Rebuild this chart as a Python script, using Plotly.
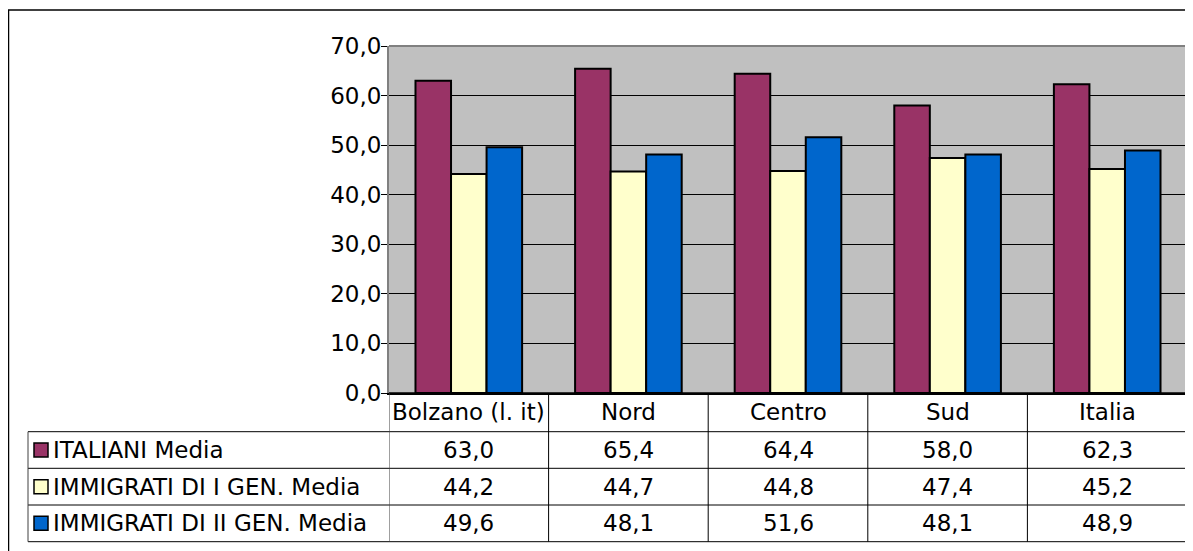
import plotly.graph_objects as go

categories = ["Bolzano (l. it)", "Nord", "Centro", "Sud", "Italia"]
series_names = ["ITALIANI Media", "IMMIGRATI DI I GEN. Media", "IMMIGRATI DI II GEN. Media"]
italiani = [63.0, 65.4, 64.4, 58.0, 62.3]
imm_1gen = [44.2, 44.7, 44.8, 47.4, 45.2]
imm_2gen = [49.6, 48.1, 51.6, 48.1, 48.9]
y_ticks = [0, 10, 20, 30, 40, 50, 60, 70]

series_values = [italiani, imm_1gen, imm_2gen]
colors = ["#993366", "#FFFFCC", "#0066CC"]

# page has an 8px body margin; work in screenshot pixels and shift
OFF = 8
W, H = 1193 - OFF, 551 - OFF
L, R, T, B = 389 - OFF, 1187 - OFF, 46 - OFF, 393 - OFF
FONT = "DejaVu Sans, Verdana, sans-serif"
FS = 23


def px(x):
    return (x - OFF - L) / (R - L)


def py(y):
    return (B - (y - OFF)) / (B - T)


fig = go.Figure()
for name, vals, col in zip(series_names, series_values, colors):
    fig.add_trace(go.Bar(
        x=list(range(len(categories))), y=vals, name=name,
        marker=dict(color=col, line=dict(color="black", width=2)),
        showlegend=False,
    ))

shapes = []
annotations = []

# outer chart border
shapes.append(dict(type="line", xref="paper", yref="paper", x0=px(8), x1=px(1210), y0=py(10), y1=py(10),
                   line=dict(color="black", width=1.5)))
shapes.append(dict(type="line", xref="paper", yref="paper", x0=px(8.5), x1=px(8.5), y0=py(10), y1=py(570),
                   line=dict(color="black", width=1.5)))

# plot area border (top/right gray)
shapes.append(dict(type="line", xref="paper", yref="paper", x0=0, x1=1, y0=1, y1=1,
                   line=dict(color="#808080", width=2)))
shapes.append(dict(type="line", xref="paper", yref="paper", x0=1, x1=1, y0=0, y1=1,
                   line=dict(color="#808080", width=2)))

# data table
row_edges = [393, 431.7, 468.3, 505, 541.7]
n = len(categories)
shapes.append(dict(type="line", xref="paper", yref="paper", x0=0, x1=1, y0=py(row_edges[0]), y1=py(row_edges[0]),
                   line=dict(color="black", width=1.5)))
for ry in row_edges[1:]:
    shapes.append(dict(type="line", xref="paper", yref="paper", x0=px(28), x1=1, y0=py(ry), y1=py(ry),
                       line=dict(color="black", width=1)))
for i in range(n + 1):
    shapes.append(dict(type="line", xref="x", yref="paper", x0=i - 0.5, x1=i - 0.5,
                       y0=py(row_edges[0]), y1=py(row_edges[-1]),
                       line=dict(color="black" if 0 < i < n else "#404040", width=1)))
shapes.append(dict(type="line", xref="paper", yref="paper", x0=px(28), x1=px(28),
                   y0=py(row_edges[1]), y1=py(row_edges[-1]), line=dict(color="#404040", width=1)))

for i, c in enumerate(categories):
    annotations.append(dict(x=i, y=py((row_edges[0] + row_edges[1]) / 2), xref="x", yref="paper",
                            text=c, showarrow=False, font=dict(family=FONT, size=FS, color="black"),
                            xanchor="center", yanchor="middle"))

for r, (name, vals, col) in enumerate(zip(series_names, series_values, colors)):
    cy = (row_edges[r + 1] + row_edges[r + 2]) / 2
    shapes.append(dict(type="rect", xref="paper", yref="paper", x0=px(34), x1=px(48),
                       y0=py(cy + 7), y1=py(cy - 7), fillcolor=col, line=dict(color="black", width=1.5)))
    annotations.append(dict(x=px(51), y=py(cy), xref="paper", yref="paper", text=name, showarrow=False,
                            font=dict(family=FONT, size=FS, color="black"), xanchor="left", yanchor="middle"))
    for i, v in enumerate(vals):
        annotations.append(dict(x=i, y=py(cy), xref="x", yref="paper", text=f"{v:.1f}".replace(".", ","),
                                showarrow=False, font=dict(family=FONT, size=FS, color="black"),
                                xanchor="center", yanchor="middle"))

fig.update_layout(
    width=W, height=H,
    margin=dict(l=L, r=W - R, t=T, b=H - B),
    paper_bgcolor="white", plot_bgcolor="#C0C0C0",
    barmode="group", bargap=0.332, bargroupgap=0,
    separators=",.",
    font=dict(family=FONT, size=FS, color="black"),
    shapes=shapes, annotations=annotations,
    xaxis=dict(range=[-0.5, n - 0.5], showticklabels=False, showgrid=False, zeroline=False,
               showline=True, linecolor="black", linewidth=1.5, ticks=""),
    yaxis=dict(range=[0, 70], tickvals=y_ticks, tickformat=".1f", showgrid=True, gridcolor="black",
               gridwidth=1, zeroline=False, showline=True, linecolor="#808080", linewidth=2,
               ticks="outside", ticklen=6, tickcolor="black", ticklabelstandoff=-5,
               tickfont=dict(family=FONT, size=FS)),
)

fig.write_html("out.html")
